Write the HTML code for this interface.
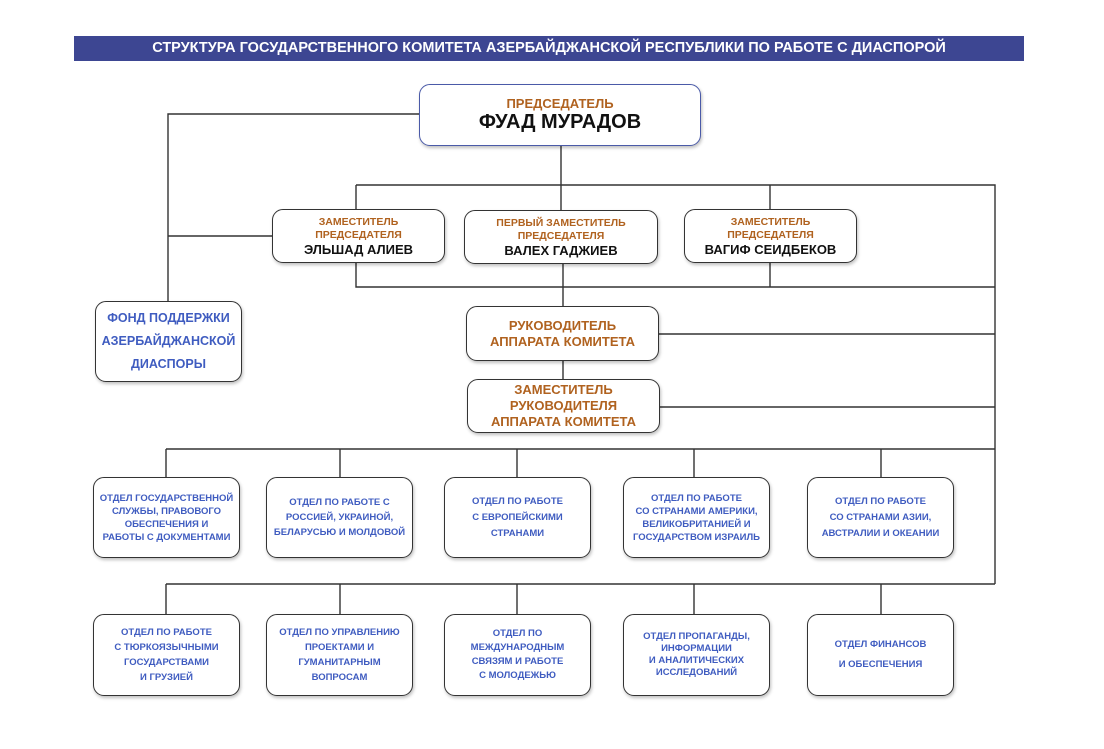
<!DOCTYPE html>
<html><head><meta charset="utf-8"><style>
body{margin:0;width:1104px;height:749px;background:#fff;position:relative;overflow:hidden;font-family:"Liberation Sans","DejaVu Sans",sans-serif;}
.t{position:absolute;left:74px;top:36px;width:950px;height:25px;background:#3d4692;color:#fff;font-weight:bold;font-size:14.5px;line-height:25px;text-align:center;}
.b{position:absolute;box-sizing:border-box;border:1.6px solid #333;border-radius:11px;background:#fff;display:flex;flex-direction:column;justify-content:center;align-items:center;text-align:center;font-weight:bold;box-shadow:1px 2px 3px rgba(0,0,0,.25);}
.o{color:#b0621f}
.k{color:#111}
.u{color:#3f5cc0}
.d{font-size:9.5px;line-height:13px;color:#3f5cc0}
svg{position:absolute;left:0;top:0}
</style></head><body>
<div class="t">СТРУКТУРА ГОСУДАРСТВЕННОГО КОМИТЕТА АЗЕРБАЙДЖАНСКОЙ РЕСПУБЛИКИ ПО РАБОТЕ С ДИАСПОРОЙ</div>
<svg width="1104" height="749"><g stroke="#333" stroke-width="1.4" fill="none">
<path d="M419 114H168V301M168 236H272"/>
<path d="M561 146V210M356 185H995V584M356 185V209M770 185V209"/>
<path d="M356 263V287H995M770 263V287M563 264V307M563 361V379"/>
<path d="M659 334H995M660 407H995"/>
<path d="M166 449H995M166 449V477M340 449V477M517 449V477M694 449V477M881 449V477"/>
<path d="M166 584H995M166 584V614M340 584V614M517 584V614M694 584V614M881 584V614"/>
</g></svg>
<div class="b" style="left:419px;top:84px;width:282px;height:62px;border-color:#4a5aa8;"><div class="o" style="font-size:13px">ПРЕДСЕДАТЕЛЬ</div><div class="k" style="font-size:20px">ФУАД МУРАДОВ</div></div>
<div class="b" style="left:272px;top:209px;width:173px;height:54px"><div class="o" style="font-size:10.5px;line-height:13px">ЗАМЕСТИТЕЛЬ<br>ПРЕДСЕДАТЕЛЯ</div><div class="k" style="font-size:13px">ЭЛЬШАД АЛИЕВ</div></div>
<div class="b" style="left:464px;top:210px;width:194px;height:54px"><div class="o" style="font-size:10.5px;line-height:13px">ПЕРВЫЙ ЗАМЕСТИТЕЛЬ<br>ПРЕДСЕДАТЕЛЯ</div><div class="k" style="font-size:13px">ВАЛЕХ ГАДЖИЕВ</div></div>
<div class="b" style="left:684px;top:209px;width:173px;height:54px"><div class="o" style="font-size:10.5px;line-height:13px">ЗАМЕСТИТЕЛЬ<br>ПРЕДСЕДАТЕЛЯ</div><div class="k" style="font-size:13px">ВАГИФ СЕИДБЕКОВ</div></div>
<div class="b u" style="left:95px;top:301px;width:147px;height:81px;font-size:12.5px;line-height:23px">ФОНД ПОДДЕРЖКИ<br>АЗЕРБАЙДЖАНСКОЙ<br>ДИАСПОРЫ</div>
<div class="b o" style="left:466px;top:306px;width:193px;height:55px;font-size:13px;line-height:16px">РУКОВОДИТЕЛЬ<br>АППАРАТА КОМИТЕТА</div>
<div class="b o" style="left:467px;top:379px;width:193px;height:54px;font-size:13px;line-height:16px">ЗАМЕСТИТЕЛЬ<br>РУКОВОДИТЕЛЯ<br>АППАРАТА КОМИТЕТА</div>
<div class="b d" style="left:93px;top:477px;width:147px;height:81px">ОТДЕЛ ГОСУДАРСТВЕННОЙ<br>СЛУЖБЫ, ПРАВОВОГО<br>ОБЕСПЕЧЕНИЯ И<br>РАБОТЫ С ДОКУМЕНТАМИ</div>
<div class="b d" style="left:266px;top:477px;width:147px;height:81px;line-height:15px">ОТДЕЛ ПО РАБОТЕ С<br>РОССИЕЙ, УКРАИНОЙ,<br>БЕЛАРУСЬЮ И МОЛДОВОЙ</div>
<div class="b d" style="left:444px;top:477px;width:147px;height:81px;line-height:16px">ОТДЕЛ ПО РАБОТЕ<br>С ЕВРОПЕЙСКИМИ<br>СТРАНАМИ</div>
<div class="b d" style="left:623px;top:477px;width:147px;height:81px">ОТДЕЛ ПО РАБОТЕ<br>СО СТРАНАМИ АМЕРИКИ,<br>ВЕЛИКОБРИТАНИЕЙ И<br>ГОСУДАРСТВОМ ИЗРАИЛЬ</div>
<div class="b d" style="left:807px;top:477px;width:147px;height:81px;line-height:16px">ОТДЕЛ ПО РАБОТЕ<br>СО СТРАНАМИ АЗИИ,<br>АВСТРАЛИИ И ОКЕАНИИ</div>
<div class="b d" style="left:93px;top:614px;width:147px;height:82px;line-height:15px">ОТДЕЛ ПО РАБОТЕ<br>С ТЮРКОЯЗЫЧНЫМИ<br>ГОСУДАРСТВАМИ<br>И ГРУЗИЕЙ</div>
<div class="b d" style="left:266px;top:614px;width:147px;height:82px;line-height:15px">ОТДЕЛ ПО УПРАВЛЕНИЮ<br>ПРОЕКТАМИ И<br>ГУМАНИТАРНЫМ<br>ВОПРОСАМ</div>
<div class="b d" style="left:444px;top:614px;width:147px;height:82px;line-height:14px">ОТДЕЛ ПО<br>МЕЖДУНАРОДНЫМ<br>СВЯЗЯМ И РАБОТЕ<br>С МОЛОДЕЖЬЮ</div>
<div class="b d" style="left:623px;top:614px;width:147px;height:82px;line-height:12px">ОТДЕЛ ПРОПАГАНДЫ,<br>ИНФОРМАЦИИ<br>И АНАЛИТИЧЕСКИХ<br>ИССЛЕДОВАНИЙ</div>
<div class="b d" style="left:807px;top:614px;width:147px;height:82px;line-height:20px">ОТДЕЛ ФИНАНСОВ<br>И ОБЕСПЕЧЕНИЯ</div>
</body></html>
